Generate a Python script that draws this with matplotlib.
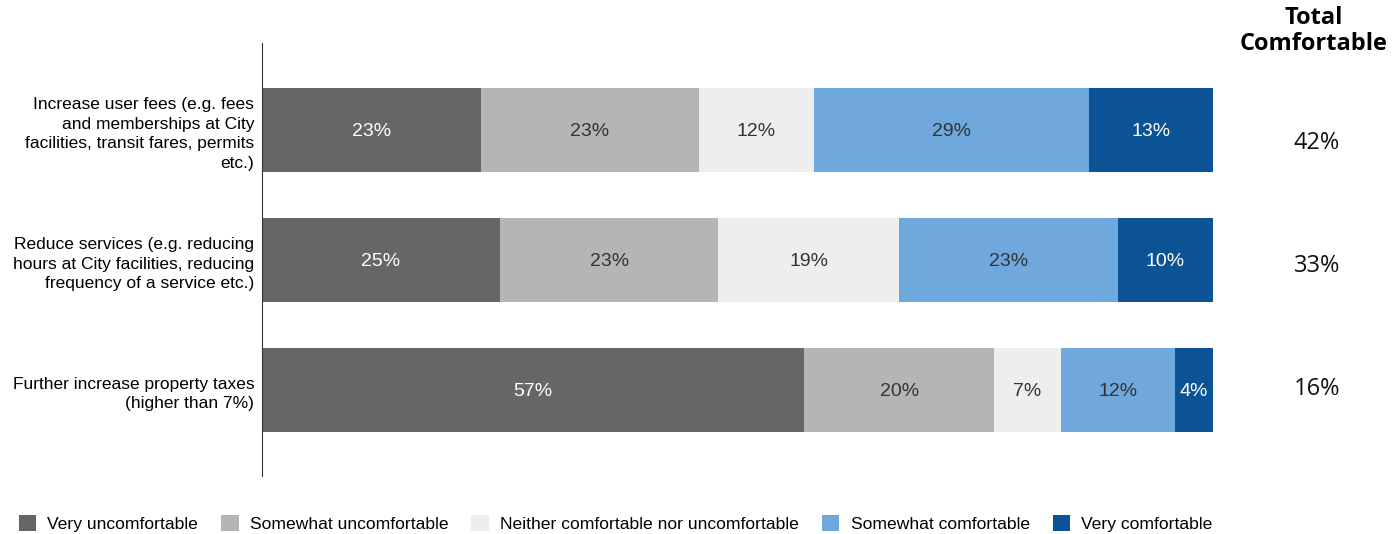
import matplotlib
matplotlib.use("Agg")
import matplotlib.pyplot as plt
from matplotlib.patches import Patch

categories = [
    "Increase user fees (e.g. fees\nand memberships at City\nfacilities, transit fares, permits\netc.)",
    "Reduce services (e.g. reducing\nhours at City facilities, reducing\nfrequency of a service etc.)",
    "Further increase property taxes\n(higher than 7%)",
]
series = ["Very uncomfortable", "Somewhat uncomfortable",
          "Neither comfortable nor uncomfortable", "Somewhat comfortable",
          "Very comfortable"]
very_uncomf = [23, 25, 57]
somewhat_uncomf = [23, 23, 20]
neither = [12, 19, 7]
somewhat_comf = [29, 23, 12]
very_comf = [13, 10, 4]
total_comf = [42, 33, 16]

colors = ["#666666", "#b5b5b5", "#eeeeee", "#6fa8dc", "#0b5394"]
text_colors = ["white", "#333333", "#333333", "#333333", "white"]

plt.rcParams['font.family'] = ['Liberation Sans', 'DejaVu Sans']

fig = plt.figure(figsize=(13.97, 5.34), dpi=100)
ax = fig.add_axes([0.1875, 0.1086, 0.6808, 0.8109])

values = [very_uncomf, somewhat_uncomf, neither, somewhat_comf, very_comf]
ypos = list(range(len(categories)))
left = [0] * len(categories)
for vals, col, tcol in zip(values, colors, text_colors):
    bars = ax.barh(ypos, vals, left=left, height=0.646, color=col, edgecolor='none')
    for b, v in zip(bars, vals):
        ax.text(b.get_x() + b.get_width() / 2, b.get_y() + b.get_height() / 2 + 0.01,
                f"{v}%", ha='center', va='center', color=tcol, fontsize=14)
    left = [l + v for l, v in zip(left, vals)]

ax.set_xlim(0, 100)
ax.set_ylim(2.66, -0.67)
ax.set_yticks(ypos)
ax.set_yticklabels(categories, fontsize=12.5, linespacing=1.4)
ax.tick_params(axis='y', length=0, pad=5.5)
ax.set_xticks([])
for s in ['top', 'right', 'bottom']:
    ax.spines[s].set_visible(False)
ax.spines['left'].set_color('#333333')

# Total comfortable column
for y, t in zip(ypos, total_comf):
    ax.text(110.9, y * 0.945 + 0.1, f"{t}%", ha='center', va='center', fontsize=17,
            family=['Open Sans', 'DejaVu Sans'], color='#111111')
fig.text(0.9405, 0.942, "Total\nComfortable", ha='center', va='center', fontsize=17,
         fontweight='bold', family=['Open Sans', 'DejaVu Sans'], linespacing=1.1)

handles = [Patch(facecolor=c, edgecolor='none') for c in colors]
fig.legend(handles, series, loc='center left', bbox_to_anchor=(0.002, 0.019), ncol=5,
           frameon=False, fontsize=12.6, handlelength=1.0, handleheight=1.0,
           handletextpad=0.65, columnspacing=1.3)

fig.savefig("out.png", dpi=100)
